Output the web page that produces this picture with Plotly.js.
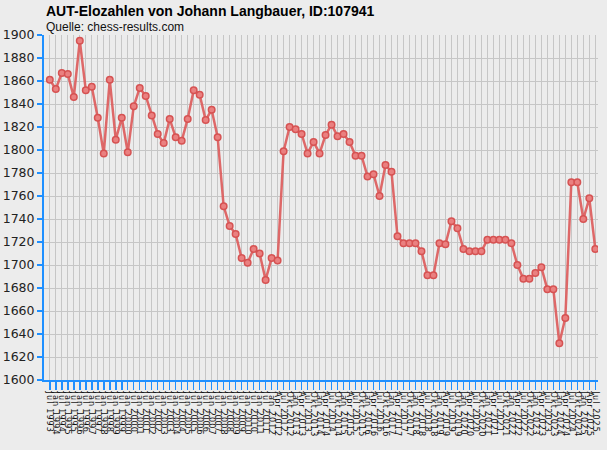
<!DOCTYPE html>
<html>
<head>
<meta charset="utf-8">
<script src="https://cdn.plot.ly/plotly-3.0.1.min.js"></script>
<style>
  html, body { margin: 0; padding: 0; background: #ececec; }
  #chart { width: 607px; height: 450px; }
  /* rotated date labels are spaced out in the original */
  #chart .xtick text { letter-spacing: 1.1px; }
</style>
</head>
<body>
<div id="chart"></div>
<script>
// rating lists: half-yearly up to Jan 2012, quarterly from Apr 2012
const listDates = [
  'Jul 1993', 'Jan 1994', 'Jul 1994', 'Jan 1995', 'Jul 1995', 'Jan 1996', 'Jul 1996', 'Jan 1997',
  'Jul 1997', 'Jan 1998', 'Jul 1998', 'Jan 1999', 'Jul 1999', 'Jan 2000', 'Jul 2000', 'Jan 2001',
  'Jul 2001', 'Jan 2002', 'Jul 2002', 'Jan 2003', 'Jul 2003', 'Jan 2004', 'Jul 2004', 'Jan 2005',
  'Jul 2005', 'Jan 2006', 'Jul 2006', 'Jan 2007', 'Jul 2007', 'Jan 2008', 'Jul 2008', 'Jan 2009',
  'Jul 2009', 'Jan 2010', 'Jul 2010', 'Jan 2011', 'Jul 2011', 'Jan 2012',
  'Apr 2012', 'Jul 2012', 'Okt 2012', 'Jan 2013', 'Apr 2013', 'Jul 2013', 'Okt 2013',
  'Jan 2014', 'Apr 2014', 'Jul 2014', 'Okt 2014', 'Jan 2015', 'Apr 2015', 'Jul 2015', 'Okt 2015',
  'Jan 2016', 'Apr 2016', 'Jul 2016', 'Okt 2016', 'Jan 2017', 'Apr 2017', 'Jul 2017', 'Okt 2017',
  'Jan 2018', 'Apr 2018', 'Jul 2018', 'Okt 2018', 'Jan 2019', 'Apr 2019', 'Jul 2019', 'Okt 2019',
  'Jan 2020', 'Apr 2020', 'Jul 2020', 'Okt 2020', 'Jan 2021', 'Apr 2021', 'Jul 2021', 'Okt 2021',
  'Jan 2022', 'Apr 2022', 'Jul 2022', 'Okt 2022', 'Jan 2023', 'Apr 2023', 'Jul 2023', 'Okt 2023',
  'Jan 2024', 'Apr 2024', 'Jul 2024', 'Okt 2024', 'Jan 2025', 'Apr 2025', 'Jul 2025'
];

const elo = [
  1861, 1853, 1867, 1866, 1846, 1895, 1852, 1855, 1828, 1797,
  1861, 1809, 1828, 1798, 1838, 1854, 1847, 1830, 1814, 1806,
  1827, 1811, 1808, 1827, 1852, 1848, 1826, 1835, 1811, 1751,
  1734, 1727, 1706, 1702, 1714, 1710, 1687, 1706, 1704, 1799,
  1820, 1818, 1814, 1797, 1807, 1797, 1813, 1822, 1812, 1814,
  1807, 1795, 1795, 1777, 1779, 1760, 1787, 1781, 1725, 1719,
  1719, 1719, 1712, 1691, 1691, 1719, 1718, 1738, 1732, 1714,
  1712, 1712, 1712, 1722, 1722, 1722, 1722, 1719, 1700, 1688,
  1688, 1693, 1698, 1679, 1679, 1632, 1654, 1772, 1772, 1740,
  1758, 1714
];

const blue = '#1e8fff';
const grid = '#c6c6c6';
const bg = '#ececec';

const data = [{
  type: 'scatter',
  mode: 'lines+markers',
  x: listDates,
  y: elo,
  line: { color: 'rgba(221,90,90,0.9)', width: 2.5 },
  marker: { symbol: 'circle', size: 6.5, color: 'rgba(234,128,128,1)', line: { color: 'rgba(214,82,82,1)', width: 1.5 } },
  hoverinfo: 'x+y'
}];

const layout = {
  width: 607,
  height: 450,
  paper_bgcolor: bg,
  plot_bgcolor: bg,
  margin: { l: 44, r: 9, t: 35, b: 70 },
  showlegend: false,
  font: { family: 'DejaVu Sans, sans-serif', color: '#222' },
  xaxis: {
    type: 'category',
    range: [-0.97, 91.45],
    tickmode: 'array',
    tickvals: listDates,
    ticktext: listDates,
    tickangle: 90,
    tickfont: { family: 'DejaVu Sans, sans-serif', size: 8, color: '#111' },
    ticks: 'outside', ticklen: 8, tickwidth: 1.5, tickcolor: blue,
    showline: true, linecolor: blue, linewidth: 2,
    showgrid: true, gridcolor: grid, gridwidth: 1,
    zeroline: false, fixedrange: true
  },
  yaxis: {
    range: [1600, 1900],
    dtick: 20,
    tickfont: { family: 'DejaVu Sans, sans-serif', size: 12.5, color: '#222' },
    ticks: 'outside', ticklen: 5, tickwidth: 2, tickcolor: blue,
    showline: true, linecolor: blue, linewidth: 2,
    showgrid: true, gridcolor: grid, gridwidth: 1,
    zeroline: false, fixedrange: true
  },
  annotations: [
    {
      text: '<b>AUT-Elozahlen von Johann Langbauer, ID:107941</b>',
      xref: 'paper', yref: 'paper', x: 0, y: 1.07,
      xanchor: 'left', yanchor: 'middle', showarrow: false,
      font: { family: 'Liberation Sans, Arial, sans-serif', size: 14, color: '#000' }
    },
    {
      text: 'Quelle: chess-results.com',
      xref: 'paper', yref: 'paper', x: 0, y: 1.023,
      xanchor: 'left', yanchor: 'middle', showarrow: false,
      font: { family: 'Liberation Sans, Arial, sans-serif', size: 12, color: '#111' }
    }
  ]
};

Plotly.newPlot('chart', data, layout, { displayModeBar: false, staticPlot: true });
</script>
</body>
</html>
